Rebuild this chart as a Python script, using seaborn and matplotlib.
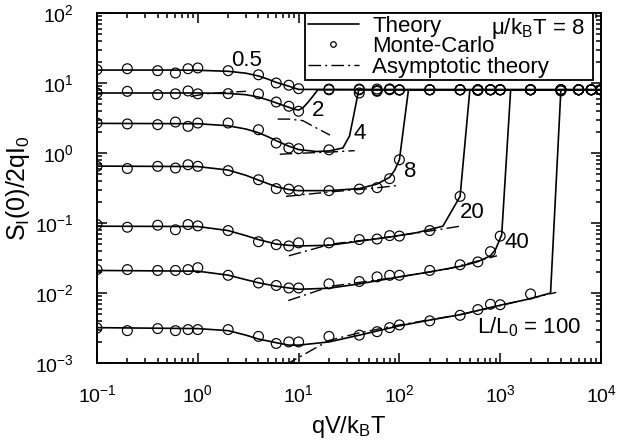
import matplotlib
matplotlib.use("Agg")
import matplotlib.pyplot as plt
from matplotlib.lines import Line2D
import seaborn as sns
import pandas as pd

# ---------------- data ----------------
ratios = ["0.5", "2", "4", "8", "20", "40", "100"]

# Monte-Carlo bias grid (qV/kBT)
mc_x = [0.1, 0.2, 0.4, 0.6, 0.8, 1, 2, 4, 6, 8, 10, 20, 40, 60, 80, 100,
        200, 400, 600, 800, 1000, 2000, 4000, 6000, 8000, 10000]

mc_05 = [15.5, 16.0, 15.0, 13.9, 16.0, 16.4, 15.0, 13.1, 10.0, 9.3, 8.3, 8.2, 8.0,
         8.2, 8.2, 8.0, 8.0, 8.0, 8.0, 8.0, 8.0, 8.0, 8.0, 8.0, 8.0, 8.0]
mc_2 = [7.2, 7.6, 6.8, 7.0, 7.7, 7.0, 7.05, 7.0, 5.35, 4.65, 3.95, 8.0, 8.2,
        7.8, 8.2, 7.9, 8.0, 8.0, 8.0, 8.0, 8.0, 8.0, 7.7, 8.0, 8.0, 8.0]
mc_4 = [2.68, 2.6, 2.54, 2.77, 2.4, 2.68, 2.68, 2.15, 1.39, 1.18, 1.15, 1.11, 7.2,
        7.6, 8.0, 8.0, 8.0, 8.0, 7.8, 8.0, 8.0, 8.0, 8.0, 8.0, 8.0, 8.0]
mc_8 = [0.645, 0.6, 0.645, 0.61, 0.68, 0.645, 0.56, 0.415, 0.31, 0.305, 0.29, 0.29,
        0.305, 0.32, 0.43, 0.8, 8.0, 8.0, 8.0, 8.0, 8.0, 8.0, 8.0, 8.0, 8.0, 8.0]
mc_20 = [0.095, 0.087, 0.093, 0.08, 0.095, 0.091, 0.078, 0.054, 0.049, 0.047, 0.052,
         0.052, 0.058, 0.059, 0.066, 0.065, 0.078, 0.24, 8.0, 8.0, 8.0, 8.0, 8.0,
         8.0, 8.0, 8.0]
mc_40 = [0.0216, 0.0216, 0.021, 0.021, 0.0216, 0.023, 0.0179, 0.0139, 0.0128, 0.0118,
         0.0118, 0.0135, 0.0146, 0.017, 0.0179, 0.0179, 0.021, 0.0253, 0.0278, 0.039,
         0.065, 8.0, 8.0, 8.0, 8.0, 8.0]
mc_100 = [0.00316, 0.0029, 0.0031, 0.0029, 0.003, 0.003, 0.003, 0.0024, 0.0019, 0.002,
          0.002, 0.0024, 0.0025, 0.0028, 0.0032, 0.0035, 0.004, 0.0048, 0.0058, 0.0069,
          0.0068, 0.0097, 8.0, 8.0, 8.0, 8.0]

# Theory curves
th_05_x = [0.1, 0.5, 1, 2, 3, 4, 5, 6, 8, 10, 10000]
th_05_y = [15.3, 15.3, 15.2, 14.7, 13.8, 12.6, 11.3, 10.2, 9.0, 8.1, 8.0]
th_2_x = [0.1, 1, 2, 3, 4, 5, 6, 7, 8, 9, 10, 11, 12.4, 14, 15.5, 10000]
th_2_y = [7.2, 7.2, 7.1, 6.8, 6.3, 5.7, 5.2, 4.8, 4.5, 4.25, 4.1, 4.4, 5.3, 6.6, 8.0, 8.0]
th_4_x = [0.1, 1, 2, 3, 4, 5, 6, 8, 10, 15, 20, 27.5, 32, 35, 39.5, 10000]
th_4_y = [2.65, 2.62, 2.45, 2.2, 1.95, 1.7, 1.5, 1.25, 1.12, 1.05, 1.07, 1.18, 1.75, 3.3, 8.0, 8.0]
th_8_x = [0.1, 1, 2, 3, 4, 6, 8, 10, 20, 40, 60, 80, 90, 100, 123, 10000]
th_8_y = [0.65, 0.64, 0.57, 0.48, 0.41, 0.33, 0.3, 0.29, 0.29, 0.31, 0.36, 0.45, 0.57, 0.8, 8.0, 8.0]
th_20_x = [0.1, 1, 2, 3, 4, 6, 8, 10, 20, 40, 80, 150, 270, 400, 500, 10000]
th_20_y = [0.09, 0.089, 0.078, 0.066, 0.058, 0.05, 0.048, 0.047, 0.048, 0.055, 0.063,
           0.073, 0.09, 0.24, 8.0, 8.0]
th_40_x = [0.1, 1, 2, 3, 4, 6, 8, 10, 20, 40, 100, 200, 400, 600, 800, 900, 1035, 1270, 10000]
th_40_y = [0.021, 0.0205, 0.018, 0.0155, 0.014, 0.0125, 0.0118, 0.0113, 0.0117, 0.0135,
           0.017, 0.02, 0.024, 0.028, 0.034, 0.042, 0.068, 8.0, 8.0]
th_100_x = [0.1, 1, 2, 3, 4, 6, 8, 10, 20, 40, 100, 200, 400, 1000, 2000, 3160, 4000, 10000]
th_100_y = [0.0032, 0.0031, 0.0029, 0.0025, 0.0022, 0.00195, 0.0018, 0.0018, 0.002,
            0.0025, 0.0034, 0.0041, 0.0049, 0.0067, 0.0083, 0.01, 8.0, 8.0]

# Asymptotic theory
as_2a_x = [0.85, 1.2, 2.0, 3.0]
as_2a_y = [6.4, 7.0, 7.4, 7.6]
as_2b_x = [6.2, 8, 11, 14, 20.5]
as_2b_y = [3.05, 3.05, 2.9, 2.4, 1.8]
as_4_x = [6.5, 10, 20, 36]
as_4_y = [0.96, 0.99, 1.03, 1.08]
as_8_x = [7.5, 20, 50, 100]
as_8_y = [0.24, 0.277, 0.31, 0.345]
as_20_x = [8, 21, 60, 150, 400]
as_20_y = [0.034, 0.05, 0.06, 0.072, 0.09]
as_40_x = [7.9, 21, 50, 100, 300, 930]
as_40_y = [0.0078, 0.0125, 0.0148, 0.017, 0.022, 0.034]
as_100_x = [7.5, 8, 20, 40, 100, 400, 1000, 3600]
as_100_y = [0.00092, 0.001, 0.0021, 0.0027, 0.0035, 0.0049, 0.0066, 0.0102]

# Curve annotations: (text, x, y, ha)
curve_labels = [("0.5", 3.07, 21.3, "center"),
                ("2", 15.6, 4.1, "center"),
                ("4", 40.5, 1.93, "center"),
                ("8", 127, 0.553, "center"),
                ("20", 525, 0.139, "center"),
                ("40", 1470, 0.0518, "center"),
                (r"L/L$_\mathrm{0}$ = 100", 590, 0.0033, "left")]

# ---------------- style ----------------
sns.set_style("ticks", {"axes.edgecolor": "black", "xtick.color": "black",
                        "ytick.color": "black", "text.color": "black",
                        "axes.labelcolor": "black"})
plt.rcParams["font.family"] = ["Liberation Sans", "DejaVu Sans"]
plt.rcParams["mathtext.fontset"] = "custom"
plt.rcParams["mathtext.rm"] = "Liberation Sans"
plt.rcParams["mathtext.it"] = "Liberation Sans:italic"
plt.rcParams["mathtext.default"] = "regular"
plt.rcParams["axes.unicode_minus"] = False

fig = plt.figure(figsize=(6.17, 4.47), dpi=100)
ax = fig.add_axes([97 / 617, 1 - 363 / 447, 504 / 617, 350 / 447])

theory = [(th_05_x, th_05_y), (th_2_x, th_2_y), (th_4_x, th_4_y), (th_8_x, th_8_y),
          (th_20_x, th_20_y), (th_40_x, th_40_y), (th_100_x, th_100_y)]
asym = [(as_2a_x, as_2a_y), (as_2b_x, as_2b_y), (as_4_x, as_4_y), (as_8_x, as_8_y),
        (as_20_x, as_20_y), (as_40_x, as_40_y), (as_100_x, as_100_y)]
mc = [mc_05, mc_2, mc_4, mc_8, mc_20, mc_40, mc_100]

dashdot = (0, (9, 3, 1.5, 3))

for tx, ty in theory:
    sns.lineplot(x=tx, y=ty, ax=ax, color="black", lw=1.2, estimator=None,
                 sort=False, legend=False)
for axx, ayy in asym:
    sns.lineplot(x=axx, y=ayy, ax=ax, color="black", lw=1.0, estimator=None,
                 sort=False, legend=False, linestyle=dashdot)

mc_df = pd.concat([pd.DataFrame({"qV": mc_x, "S": vals, "L": r})
                   for r, vals in zip(ratios, mc)], ignore_index=True)
sns.scatterplot(data=mc_df, x="qV", y="S", ax=ax, marker="o", s=50,
                facecolor="none", edgecolor="black", linewidth=0.85, legend=False,
                zorder=3)

ax.set_xscale("log")
ax.set_yscale("log")
ax.set_xlim(0.1, 1e4)
ax.set_ylim(1e-3, 1e2)

for s in ax.spines.values():
    s.set_linewidth(1.4)
    s.set_visible(True)
    s.set_color("black")
ax.tick_params(which="both", direction="in", top=True, right=True, width=1.1,
               colors="black")
ax.tick_params(which="major", length=7, labelsize=14)
ax.tick_params(which="minor", length=3.5)
ax.tick_params(axis="x", which="major", pad=15)
ax.tick_params(axis="y", which="major", pad=17)

ax.set_xlabel(r"qV/k$_\mathrm{B}$T", fontsize=17, labelpad=6, color="black")
ax.set_ylabel(r"S$_\mathrm{I}$(0)/2qI$_\mathrm{0}$", fontsize=18, labelpad=2,
              color="black")

for txt, lx, ly, ha in curve_labels:
    ax.text(lx, ly, txt, fontsize=16, ha=ha, va="center", color="black")

handles = [Line2D([], [], color="black", lw=1.2),
           Line2D([], [], ls="none", marker="o", mfc="none", mec="black", ms=4, mew=0.9),
           Line2D([], [], color="black", lw=1.0, linestyle=dashdot)]
labels = ["Theory", "Monte-Carlo", "Asymptotic theory"]
leg = ax.legend(handles, labels, loc="upper left",
                bbox_to_anchor=((305 - 97) / 504, (363 - 83) / 350,
                                (593 - 305) / 504, (83 - 13) / 350),
                mode="expand", fontsize=16, frameon=True, fancybox=False,
                edgecolor="black", framealpha=1, borderpad=0.12,
                labelspacing=-0.02, handlelength=2.3, handletextpad=0.6,
                borderaxespad=0)
leg.get_frame().set_linewidth(1.3)
for t in leg.get_texts():
    t.set_color("black")

ax.text(0.968, 0.957, r"$\mu$/k$_\mathrm{B}$T = 8", transform=ax.transAxes,
        fontsize=16, ha="right", va="center", zorder=6, color="black")

fig.savefig("out.png", dpi=100)
